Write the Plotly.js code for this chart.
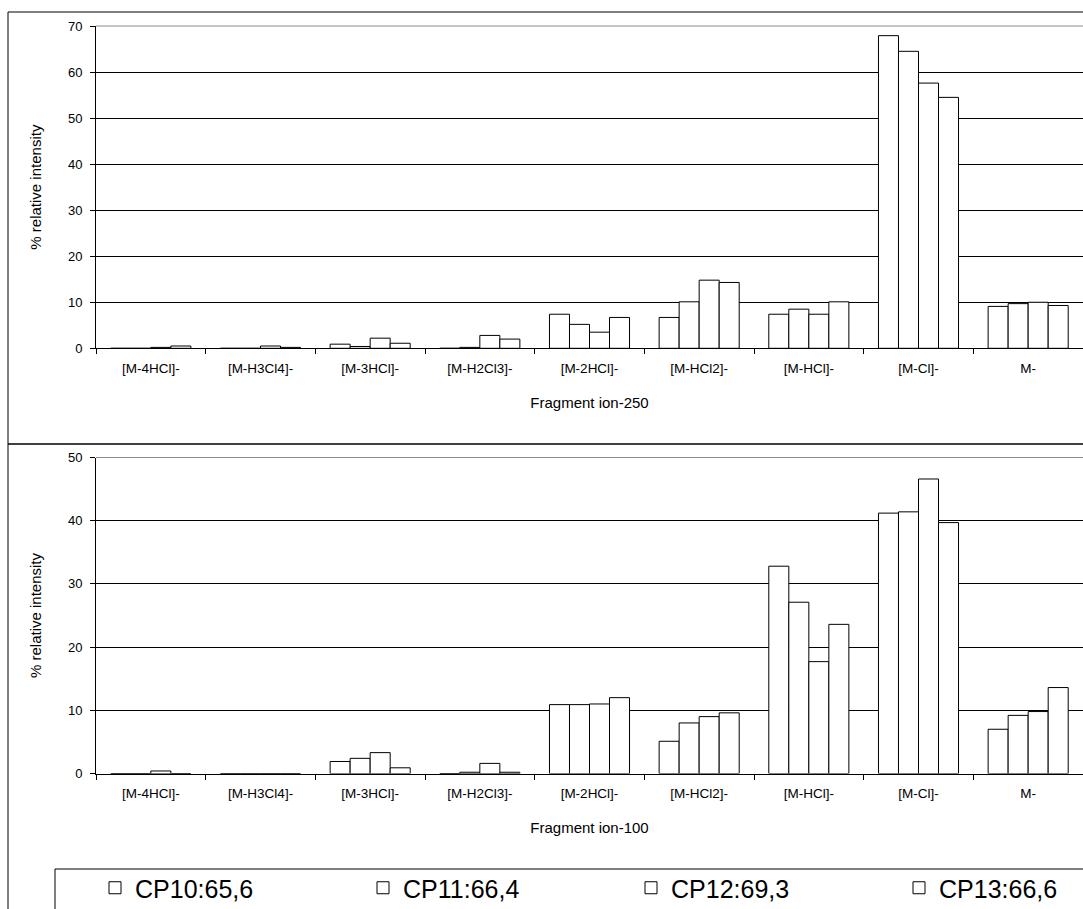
<!DOCTYPE html>
<html>
<head>
<meta charset="utf-8">
<script src="https://cdn.plot.ly/plotly-3.0.1.min.js"></script>
<style>
  html, body { margin: 0; padding: 0; background: #fff; overflow: hidden; }
  #chart { width: 1083px; height: 909px; overflow: hidden; }
</style>
</head>
<body>
<div id="chart"></div>
<script>
// ---- data ----
const categories = ['[M-4HCl]-', '[M-H3Cl4]-', '[M-3HCl]-', '[M-H2Cl3]-', '[M-2HCl]-', '[M-HCl2]-', '[M-HCl]-', '[M-Cl]-', 'M-'];
const seriesNames = ['CP10:65,6', 'CP11:66,4', 'CP12:69,3', 'CP13:66,6'];

// Fragment ion-250 (top panel)
const top_CP10 = [0, 0, 0.9, 0, 7.4, 6.7, 7.4, 67.9, 9.1];
const top_CP11 = [0, 0, 0.4, 0.2, 5.2, 10.1, 8.5, 64.5, 9.7];
const top_CP12 = [0.2, 0.5, 2.2, 2.8, 3.5, 14.8, 7.4, 57.6, 10.0];
const top_CP13 = [0.5, 0.2, 1.1, 2.0, 6.7, 14.3, 10.1, 54.5, 9.3];

// Fragment ion-100 (bottom panel)
const bot_CP10 = [0, 0, 1.9, 0, 10.9, 5.1, 32.8, 41.2, 7.0];
const bot_CP11 = [0, 0, 2.4, 0.2, 10.9, 8.0, 27.1, 41.4, 9.2];
const bot_CP12 = [0.4, 0, 3.3, 1.6, 11.0, 9.0, 17.7, 46.6, 9.8];
const bot_CP13 = [0, 0, 0.9, 0.2, 12.0, 9.6, 23.6, 39.7, 13.6];

const topTitle = 'Fragment ion-250';
const botTitle = 'Fragment ion-100';
const yTitle = '% relative intensity';

// ---- figure ----
const W = 1083, H = 909;
const px = v => v / W;
const py = v => 1 - v / H;
const FONT = 'Liberation Sans, Arial, sans-serif';

const topSeries = [top_CP10, top_CP11, top_CP12, top_CP13];
const botSeries = [bot_CP10, bot_CP11, bot_CP12, bot_CP13];

const traces = [];
topSeries.forEach((vals, i) => {
  traces.push({
    type: 'bar', x: categories, y: vals, name: seriesNames[i],
    xaxis: 'x', yaxis: 'y', legendgroup: 's' + i, showlegend: true,
    marker: { color: '#ffffff', line: { color: '#000000', width: 1 } },
    hoverinfo: 'x+y+name'
  });
});
botSeries.forEach((vals, i) => {
  traces.push({
    type: 'bar', x: categories, y: vals, name: seriesNames[i],
    xaxis: 'x2', yaxis: 'y2', legendgroup: 's' + i, showlegend: false,
    marker: { color: '#ffffff', line: { color: '#000000', width: 1 } },
    hoverinfo: 'x+y+name'
  });
});

const xCommon = {
  type: 'category',
  showline: true, linecolor: '#000', linewidth: 1,
  ticks: 'outside', tickson: 'boundaries', ticklen: 5, tickcolor: '#000',
  ticklabelstandoff: 7,
  showgrid: false, zeroline: false,
  tickfont: { family: FONT, size: 13.5, color: '#000' },
  domain: [px(96), 1]
};
const yCommon = {
  showline: true, linecolor: '#000', linewidth: 1,
  ticks: 'outside', ticklen: 5, tickcolor: '#000',
  ticklabelstandoff: 5,
  showgrid: true, gridcolor: '#000', gridwidth: 1,
  zeroline: false, dtick: 10,
  tickfont: { family: FONT, size: 13, color: '#000' },
  title: { text: yTitle, font: { family: FONT, size: 15, color: '#000' }, standoff: 22 }
};

const layout = {
  width: W, height: H,
  margin: { l: 0, r: 0, t: 0, b: 0, autoexpand: false },
  paper_bgcolor: '#fff', plot_bgcolor: '#fff',
  barmode: 'group', bargap: 0.27, bargroupgap: 0,
  font: { family: FONT, color: '#000' },
  xaxis: Object.assign({}, xCommon, {
    anchor: 'y', automargin: false,
    title: { text: topTitle, font: { family: FONT, size: 15, color: '#000' }, standoff: 22 }
  }),
  yaxis: Object.assign({}, yCommon, {
    anchor: 'x', automargin: false, range: [0, 70], domain: [py(348.3), py(26)]
  }),
  xaxis2: Object.assign({}, xCommon, {
    anchor: 'y2', automargin: false,
    title: { text: botTitle, font: { family: FONT, size: 15, color: '#000' }, standoff: 22 }
  }),
  yaxis2: Object.assign({}, yCommon, {
    anchor: 'x2', automargin: false, range: [0, 50], domain: [py(773.5), py(457.5)]
  }),
  legend: {
    orientation: 'h',
    x: px(95), xanchor: 'left',
    y: py(865), yanchor: 'top',
    font: { family: FONT, size: 25, color: '#000' },
    entrywidth: 223, entrywidthmode: 'pixels',
    bgcolor: 'rgba(0,0,0,0)', borderwidth: 0,
    traceorder: 'normal'
  },
  shapes: [
    // grey top gridlines (top edge of each plot area)
    { type: 'line', xref: 'x domain', yref: 'y domain', x0: 0, x1: 1, y0: 1, y1: 1, line: { color: '#8c8c8c', width: 1.2 } },
    { type: 'line', xref: 'x2 domain', yref: 'y2 domain', x0: 0, x1: 1, y0: 1, y1: 1, line: { color: '#8c8c8c', width: 1.2 } },
    // outer frame (top and left edges visible)
    { type: 'line', xref: 'paper', yref: 'paper', x0: px(8), x1: 1, y0: py(12), y1: py(12), line: { color: '#000', width: 1 } },
    { type: 'line', xref: 'paper', yref: 'paper', x0: px(8), x1: px(8), y0: py(12), y1: 0, line: { color: '#000', width: 1 } },
    // separator between panels
    { type: 'line', xref: 'paper', yref: 'paper', x0: px(8), x1: 1, y0: py(444), y1: py(444), line: { color: '#000', width: 1.5 } },
    // legend frame (top and left edges visible)
    { type: 'line', xref: 'paper', yref: 'paper', x0: px(55), x1: 1, y0: py(869), y1: py(869), line: { color: '#000', width: 1 } },
    { type: 'line', xref: 'paper', yref: 'paper', x0: px(55), x1: px(55), y0: py(869), y1: 0, line: { color: '#000', width: 1 } }
  ]
};

Plotly.newPlot('chart', traces, layout, { displayModeBar: false, staticPlot: true });
</script>
</body>
</html>
